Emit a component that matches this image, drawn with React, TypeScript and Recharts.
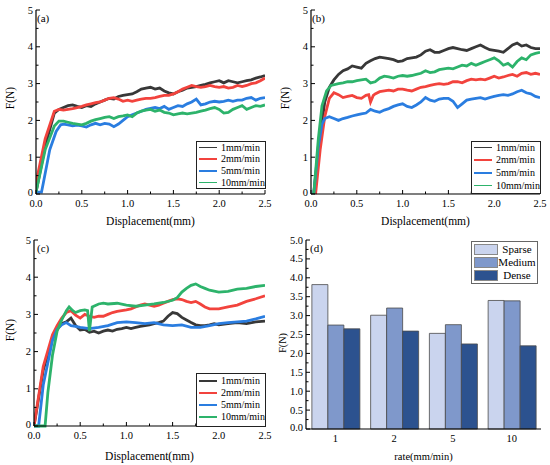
import React from 'react';
import { LineChart, Line, BarChart, Bar, XAxis, YAxis } from 'recharts';

// ---- data: [displacement (mm), force (N)] ----
const a1mm = [[0,0.05],[0.1,1.3],[0.2,2.2],[0.25,2.3],[0.3,2.35],[0.35,2.4],[0.4,2.42],[0.45,2.38],[0.5,2.35],[0.55,2.4],[0.6,2.38],[0.65,2.45],[0.7,2.5],[0.75,2.55],[0.8,2.6],[0.85,2.58],[0.9,2.65],[0.95,2.68],[1.0,2.7],[1.05,2.72],[1.1,2.78],[1.15,2.85],[1.2,2.88],[1.25,2.9],[1.3,2.85],[1.35,2.88],[1.4,2.8],[1.45,2.75],[1.5,2.72],[1.55,2.78],[1.6,2.82],[1.65,2.88],[1.7,2.9],[1.75,2.92],[1.8,2.95],[1.85,2.98],[1.9,3.02],[1.95,3.05],[2.0,3.08],[2.05,3.02],[2.1,3.08],[2.15,3.05],[2.2,3.02],[2.25,3.05],[2.3,3.08],[2.35,3.1],[2.4,3.15],[2.45,3.18],[2.5,3.22]];
const a2mm = [[0,0.3],[0.1,1.5],[0.2,2.25],[0.25,2.3],[0.3,2.28],[0.35,2.3],[0.4,2.32],[0.45,2.35],[0.5,2.38],[0.55,2.42],[0.6,2.45],[0.65,2.48],[0.7,2.5],[0.75,2.55],[0.8,2.6],[0.85,2.62],[0.9,2.58],[0.95,2.52],[1.0,2.55],[1.05,2.52],[1.1,2.55],[1.15,2.58],[1.2,2.6],[1.25,2.6],[1.3,2.62],[1.35,2.65],[1.4,2.68],[1.45,2.68],[1.5,2.72],[1.55,2.78],[1.6,2.85],[1.65,2.9],[1.7,2.95],[1.75,2.92],[1.8,2.9],[1.85,2.92],[1.9,2.95],[1.95,2.92],[2.0,2.9],[2.05,2.92],[2.1,2.88],[2.15,2.9],[2.2,2.95],[2.25,2.92],[2.3,2.95],[2.35,3.0],[2.4,3.02],[2.45,3.08],[2.5,3.15]];
const a5mm = [[0,0.05],[0.06,0.05],[0.08,0.3],[0.15,1.2],[0.22,1.7],[0.27,1.88],[0.3,1.9],[0.35,1.88],[0.4,1.85],[0.45,1.87],[0.5,1.85],[0.55,1.82],[0.6,1.88],[0.65,1.92],[0.7,1.88],[0.75,1.92],[0.8,1.9],[0.85,1.83],[0.9,1.9],[0.95,2.0],[1.0,2.1],[1.05,2.15],[1.1,2.2],[1.15,2.25],[1.2,2.3],[1.25,2.33],[1.3,2.35],[1.35,2.32],[1.4,2.38],[1.45,2.3],[1.5,2.35],[1.55,2.4],[1.6,2.38],[1.65,2.45],[1.7,2.5],[1.75,2.58],[1.8,2.42],[1.85,2.45],[1.9,2.5],[1.95,2.52],[2.0,2.5],[2.05,2.52],[2.1,2.55],[2.15,2.52],[2.2,2.55],[2.25,2.55],[2.3,2.6],[2.35,2.62],[2.4,2.55],[2.45,2.6],[2.5,2.62]];
const a10mm = [[0,0.05],[0.1,1.2],[0.2,1.85],[0.25,1.98],[0.3,1.98],[0.35,1.95],[0.4,1.92],[0.45,1.9],[0.5,1.88],[0.55,1.92],[0.6,1.98],[0.65,2.02],[0.7,2.05],[0.75,2.08],[0.8,2.1],[0.85,2.05],[0.9,2.1],[0.95,2.12],[1.0,2.15],[1.05,2.1],[1.1,2.2],[1.15,2.25],[1.2,2.28],[1.25,2.3],[1.3,2.25],[1.35,2.28],[1.4,2.22],[1.45,2.2],[1.5,2.15],[1.55,2.18],[1.6,2.2],[1.65,2.18],[1.7,2.2],[1.75,2.22],[1.8,2.25],[1.85,2.28],[1.9,2.32],[1.95,2.35],[2.0,2.3],[2.05,2.2],[2.1,2.22],[2.15,2.3],[2.2,2.35],[2.25,2.4],[2.3,2.3],[2.35,2.35],[2.4,2.4],[2.45,2.38],[2.5,2.42]];

const b1mm = [[0.03,0],[0.1,1.6],[0.15,2.5],[0.2,2.9],[0.25,3.1],[0.3,3.25],[0.35,3.35],[0.4,3.4],[0.45,3.48],[0.5,3.45],[0.55,3.42],[0.6,3.55],[0.65,3.62],[0.7,3.68],[0.75,3.72],[0.8,3.7],[0.85,3.68],[0.9,3.65],[0.95,3.6],[1.0,3.62],[1.05,3.68],[1.1,3.7],[1.15,3.72],[1.2,3.78],[1.25,3.88],[1.3,3.92],[1.35,3.85],[1.4,3.85],[1.45,3.9],[1.5,3.95],[1.55,3.98],[1.6,3.95],[1.65,3.92],[1.7,3.9],[1.75,3.95],[1.8,4.0],[1.85,4.05],[1.9,3.98],[1.95,3.92],[2.0,3.9],[2.05,3.88],[2.1,3.85],[2.15,3.95],[2.2,4.05],[2.25,4.1],[2.3,4.02],[2.35,4.05],[2.4,3.98],[2.45,3.95],[2.5,3.95]];
const b2mm = [[0.05,0],[0.1,1.2],[0.15,2.1],[0.2,2.6],[0.25,2.75],[0.3,2.7],[0.35,2.62],[0.4,2.65],[0.45,2.68],[0.5,2.62],[0.55,2.6],[0.6,2.68],[0.63,2.7],[0.65,2.5],[0.68,2.68],[0.7,2.72],[0.75,2.78],[0.8,2.8],[0.85,2.82],[0.9,2.8],[0.95,2.85],[1.0,2.85],[1.05,2.82],[1.1,2.8],[1.15,2.85],[1.2,2.9],[1.25,2.92],[1.3,2.95],[1.35,2.98],[1.4,3.0],[1.45,2.98],[1.5,3.0],[1.55,3.05],[1.6,3.05],[1.65,3.02],[1.7,3.08],[1.75,3.12],[1.8,3.1],[1.85,3.12],[1.9,3.1],[1.95,3.15],[2.0,3.2],[2.05,3.15],[2.1,3.18],[2.15,3.22],[2.2,3.25],[2.25,3.2],[2.3,3.28],[2.35,3.3],[2.4,3.25],[2.45,3.28],[2.5,3.25]];
const b5mm = [[0.03,0],[0.08,1.3],[0.12,1.9],[0.15,2.05],[0.2,2.1],[0.25,2.05],[0.3,2.0],[0.35,2.05],[0.4,2.08],[0.45,2.12],[0.5,2.15],[0.55,2.18],[0.6,2.2],[0.65,2.3],[0.7,2.25],[0.75,2.22],[0.8,2.28],[0.85,2.32],[0.9,2.38],[0.95,2.42],[1.0,2.45],[1.05,2.38],[1.1,2.35],[1.15,2.42],[1.2,2.5],[1.25,2.62],[1.3,2.55],[1.35,2.52],[1.4,2.58],[1.45,2.6],[1.5,2.6],[1.55,2.52],[1.6,2.35],[1.65,2.45],[1.7,2.55],[1.75,2.58],[1.8,2.6],[1.85,2.62],[1.9,2.58],[1.95,2.62],[2.0,2.65],[2.05,2.68],[2.1,2.7],[2.15,2.68],[2.2,2.72],[2.25,2.78],[2.3,2.82],[2.35,2.75],[2.4,2.72],[2.45,2.65],[2.5,2.62]];
const b10mm = [[0.03,0],[0.08,1.5],[0.12,2.4],[0.17,2.8],[0.22,2.95],[0.3,3.0],[0.35,3.02],[0.4,3.05],[0.45,3.05],[0.5,3.08],[0.55,3.1],[0.6,3.12],[0.65,3.02],[0.7,3.05],[0.75,3.15],[0.8,3.2],[0.85,3.18],[0.9,3.15],[0.95,3.2],[1.0,3.22],[1.05,3.2],[1.1,3.22],[1.15,3.25],[1.2,3.28],[1.25,3.35],[1.3,3.3],[1.35,3.32],[1.4,3.38],[1.45,3.4],[1.5,3.42],[1.55,3.4],[1.6,3.45],[1.65,3.5],[1.7,3.48],[1.75,3.55],[1.8,3.5],[1.85,3.55],[1.9,3.6],[1.95,3.65],[2.0,3.7],[2.05,3.62],[2.1,3.5],[2.15,3.55],[2.2,3.45],[2.25,3.6],[2.3,3.7],[2.35,3.65],[2.4,3.78],[2.45,3.82],[2.5,3.85]];

const c1mm = [[0,0],[0.1,1.5],[0.2,2.35],[0.25,2.6],[0.3,2.75],[0.35,2.8],[0.4,2.9],[0.45,2.7],[0.5,2.58],[0.55,2.6],[0.6,2.52],[0.65,2.55],[0.7,2.5],[0.75,2.55],[0.8,2.58],[0.85,2.55],[0.9,2.6],[0.95,2.62],[1.0,2.65],[1.05,2.62],[1.1,2.65],[1.15,2.68],[1.2,2.7],[1.25,2.72],[1.3,2.75],[1.35,2.78],[1.4,2.82],[1.45,2.95],[1.5,3.05],[1.55,3.02],[1.6,2.92],[1.65,2.85],[1.7,2.78],[1.75,2.72],[1.8,2.7],[1.85,2.7],[1.9,2.72],[1.95,2.75],[2.0,2.72],[2.1,2.75],[2.2,2.78],[2.3,2.75],[2.4,2.8],[2.5,2.82]];
const c2mm = [[0,0],[0.1,1.6],[0.2,2.45],[0.25,2.7],[0.3,2.9],[0.35,3.05],[0.4,3.1],[0.45,2.98],[0.5,2.9],[0.55,3.0],[0.6,2.95],[0.65,2.92],[0.7,2.95],[0.75,2.95],[0.8,3.0],[0.85,3.05],[0.9,3.08],[0.95,3.1],[1.0,3.12],[1.05,3.15],[1.1,3.2],[1.15,3.25],[1.2,3.28],[1.25,3.25],[1.3,3.22],[1.35,3.25],[1.4,3.3],[1.45,3.35],[1.5,3.4],[1.55,3.42],[1.6,3.4],[1.65,3.35],[1.7,3.32],[1.75,3.35],[1.8,3.28],[1.85,3.2],[1.9,3.15],[1.95,3.15],[2.0,3.15],[2.1,3.2],[2.2,3.25],[2.3,3.35],[2.4,3.42],[2.5,3.5]];
const c5mm = [[0,0],[0.05,0],[0.1,1.1],[0.2,2.3],[0.25,2.6],[0.3,2.72],[0.35,2.78],[0.4,2.7],[0.45,2.68],[0.5,2.65],[0.6,2.62],[0.7,2.65],[0.8,2.7],[0.9,2.78],[1.0,2.8],[1.1,2.78],[1.2,2.75],[1.3,2.78],[1.4,2.72],[1.5,2.7],[1.6,2.72],[1.7,2.65],[1.8,2.65],[1.9,2.7],[2.0,2.75],[2.1,2.78],[2.2,2.8],[2.3,2.82],[2.4,2.88],[2.5,2.95]];
const c10mm = [[0,0],[0.12,0],[0.15,0.9],[0.2,1.9],[0.25,2.55],[0.3,2.85],[0.35,3.1],[0.38,3.2],[0.42,3.1],[0.45,3.05],[0.5,3.1],[0.55,3.12],[0.58,3.1],[0.6,2.55],[0.63,3.2],[0.7,3.28],[0.75,3.3],[0.8,3.28],[0.9,3.3],[1.0,3.25],[1.1,3.22],[1.2,3.25],[1.3,3.28],[1.4,3.32],[1.5,3.38],[1.55,3.45],[1.6,3.6],[1.65,3.7],[1.7,3.78],[1.75,3.82],[1.8,3.75],[1.85,3.7],[1.9,3.65],[2.0,3.6],[2.1,3.62],[2.2,3.68],[2.3,3.7],[2.4,3.75],[2.5,3.78]];

const rateNames = ['1mm/min', '2mm/min', '5mm/min', '10mm/min'];
const rateColors = ['#383838', '#f2433d', '#2a7de0', '#2db36b'];

const rateCats = ['1', '2', '5', '10'];
const sparseVals = [3.82, 3.01, 2.53, 3.40];
const mediumVals = [2.75, 3.20, 2.76, 3.39];
const denseVals = [2.65, 2.59, 2.25, 2.20];
const densityNames = ['Sparse', 'Medium', 'Dense'];
const densityColors = ['#cad4ee', '#7f98cb', '#2c528f'];

const xTicks = [0, 0.25, 0.5, 0.75, 1, 1.25, 1.5, 1.75, 2, 2.25, 2.5];
const yTicks = [0, 0.5, 1, 1.5, 2, 2.5, 3, 3.5, 4, 4.5, 5];
const yTicksFine = [0, 0.25, 0.5, 0.75, 1, 1.25, 1.5, 1.75, 2, 2.25, 2.5, 2.75, 3, 3.25, 3.5, 3.75, 4, 4.25, 4.5, 4.75, 5];

const FONT = "'Liberation Serif', 'Times New Roman', serif";
const toPts = (arr: number[][]) => arr.map(([d, f]) => ({ d, f }));
const isStep = (v: number, step: number) => Math.abs(v / step - Math.round(v / step)) < 1e-6;
const txt = { fontFamily: FONT, fill: '#000' };

const xTick = (axisY: number) => (props: any) => {
  const { x, payload } = props;
  const v = payload.value as number;
  const major = isStep(v, 0.5);
  return (
    <g>
      <line x1={x} x2={x} y1={axisY} y2={axisY - (major ? 4 : 2.5)} stroke="#000" />
      {major && (
        <text x={x} y={axisY + 12.5} textAnchor="middle" fontSize={10.5} style={txt}>
          {v.toFixed(1)}
        </text>
      )}
    </g>
  );
};

const yTick = (axisX: number, majorStep: number, fmt: (v: number) => string) => (props: any) => {
  const { y, payload } = props;
  const v = payload.value as number;
  const major = isStep(v, majorStep);
  return (
    <g>
      <line x1={axisX} x2={axisX + (major ? 4 : 2.5)} y1={y} y2={y} stroke="#000" />
      {major && (
        <text x={axisX - 3} y={y + (v === 0 ? 2 : 3.5)} textAnchor="end" fontSize={10.5} style={txt}>
          {fmt(v)}
        </text>
      )}
    </g>
  );
};

const yLabel = (cx: number, cy: number, size: number) => () => (
  <text x={cx} y={cy} transform={`rotate(-90 ${cx} ${cy})`} textAnchor="middle" dominantBaseline="central"
    fontSize={size} style={txt}>F(N)</text>
);

const xLabel = (cx: number, baseline: number, size: number, value: string) => () => (
  <text x={cx} y={baseline} textAnchor="middle" fontSize={size} style={txt}>{value}</text>
);

interface LinePanelProps {
  left: number;
  top: number;
  height: number;
  yAxisW: number;
  xAxisH: number;
  tag: string;
  series: number[][][];
  legendTop: number;
  legendH: number;
  rowStart: number;
  rowH: number;
  labelCy: number;
}

const LinePanel = (p: LinePanelProps) => {
  const plotBottom = p.height - p.xAxisH;
  const cx = (p.yAxisW + 265) / 2;
  return (
    <div style={{ position: 'absolute', left: p.left, top: p.top, width: 275, height: p.height, fontFamily: FONT }}>
      <LineChart width={275} height={p.height} margin={{ top: 10, right: 10, left: 0, bottom: 0 }} style={{ fontFamily: FONT }}>
        <XAxis dataKey="d" type="number" domain={[0, 2.5]} ticks={xTicks} interval={0} height={p.xAxisH}
          axisLine={{ stroke: '#000', strokeWidth: 1.2 }} tickLine={false} tick={xTick(plotBottom)}
          allowDataOverflow
          label={{ content: xLabel(cx, p.height - 5, 11.5, 'Displacement(mm)') }} />
        <XAxis xAxisId="top" orientation="top" type="number" domain={[0, 2.5]} height={0} tick={false} tickLine={false}
          axisLine={{ stroke: '#000', strokeWidth: 1.2 }} />
        <YAxis type="number" domain={[0, 5]} ticks={yTicks} interval={0} width={p.yAxisW}
          axisLine={{ stroke: '#000', strokeWidth: 1.2 }} tickLine={false}
          tick={yTick(p.yAxisW, 1, (v) => String(v))}
          label={{ content: yLabel(10, p.labelCy, 11.5) }} />
        <YAxis yAxisId="right" orientation="right" type="number" domain={[0, 5]} width={0} tick={false} tickLine={false}
          axisLine={{ stroke: '#000', strokeWidth: 1.2 }} />
        {p.series.map((s, i) => (
          <Line key={rateNames[i]} data={toPts(s)} dataKey="f" name={rateNames[i]} type="linear"
            stroke={rateColors[i]} strokeWidth={2.8} dot={false} isAnimationActive={false} />
        ))}
      </LineChart>
      <div style={{ position: 'absolute', left: 37, top: 12, fontSize: 11, lineHeight: '12px' }}>{p.tag}</div>
      <div style={{ position: 'absolute', left: 196, top: p.legendTop, width: 68, height: p.legendH,
        border: '1px solid #222', background: '#fff', fontSize: 10 }}>
        {rateNames.map((n, i) => (
          <div key={n} style={{ position: 'absolute', left: 0, top: p.rowStart + i * p.rowH - 6, height: 12,
            display: 'flex', alignItems: 'center' }}>
            <div style={{ width: 18, height: 1.8, marginLeft: 2, background: rateColors[i] }} />
            <span style={{ marginLeft: 4, lineHeight: '12px' }}>{n}</span>
          </div>
        ))}
      </div>
    </div>
  );
};

const barData = rateCats.map((r, i) => ({ rate: r, Sparse: sparseVals[i], Medium: mediumVals[i], Dense: denseVals[i] }));

const BarPanel = () => {
  const plotBottom = 235 - 36;
  return (
    <div style={{ position: 'absolute', left: 275, top: 230, width: 275, height: 235, fontFamily: FONT }}>
      <BarChart width={275} height={235} data={barData} margin={{ top: 10, right: 9, left: 0, bottom: 0 }}
        barCategoryGap="10%" barGap={0} style={{ fontFamily: FONT }}>
        <XAxis dataKey="rate" height={36} axisLine={{ stroke: '#000', strokeWidth: 1.2 }} tickLine={false} interval={0}
          tick={(props: any) => (
            <text x={props.x} y={plotBottom + 13} textAnchor="middle" fontSize={10.5} style={txt}>
              {props.payload.value}
            </text>
          )}
          label={{ content: xLabel(148.5, 230, 10.5, 'rate(mm/min)') }} />
        <XAxis xAxisId="top" dataKey="rate" orientation="top" height={0} tick={false} tickLine={false}
          axisLine={{ stroke: '#000', strokeWidth: 1.2 }} />
        <YAxis type="number" domain={[0, 5]} ticks={yTicksFine} interval={0} width={31}
          axisLine={{ stroke: '#000', strokeWidth: 1.2 }} tickLine={false}
          tick={yTick(31, 0.5, (v) => v.toFixed(1))}
          label={{ content: yLabel(7, 113, 10) }} />
        <YAxis yAxisId="right" orientation="right" type="number" domain={[0, 5]} width={0} tick={false} tickLine={false}
          axisLine={{ stroke: '#000', strokeWidth: 1.2 }} />
        {densityNames.map((n, i) => (
          <Bar key={n} dataKey={n} fill={densityColors[i]} stroke="#4a4a4a" strokeWidth={0.8} isAnimationActive={false} />
        ))}
      </BarChart>
      <div style={{ position: 'absolute', left: 35, top: 12, fontSize: 11, lineHeight: '12px' }}>(d)</div>
      <div style={{ position: 'absolute', left: 196, top: 10.5, width: 65, height: 41, border: '1px solid #666',
        background: '#fff', fontSize: 11 }}>
        {densityNames.map((n, i) => (
          <div key={n} style={{ position: 'absolute', left: 2, top: 2 + i * 13, height: 11.5, width: 62,
            display: 'flex', alignItems: 'center' }}>
            <div style={{ width: 24, height: 11.5, background: densityColors[i], boxSizing: 'border-box', border: '0.5px solid #888' }} />
            <span style={{ flex: 1, textAlign: 'center', lineHeight: '12px' }}>{n}</span>
          </div>
        ))}
      </div>
    </div>
  );
};

export default function App() {
  return (
    <div style={{ position: 'absolute', left: 0, top: 0, width: 550, height: 465, background: '#fff', overflow: 'hidden', fontFamily: FONT }}>
      <LinePanel left={0} top={0} height={230} yAxisW={36} xAxisH={36} tag="(a)"
        series={[a1mm, a2mm, a5mm, a10mm]} legendTop={140.5} legendH={46} rowStart={6} rowH={11.7} labelCy={98} />
      <LinePanel left={275} top={0} height={230} yAxisW={36} xAxisH={36} tag="(b)"
        series={[b1mm, b2mm, b5mm, b10mm]} legendTop={140.5} legendH={51} rowStart={6} rowH={12.7} labelCy={98} />
      <LinePanel left={0} top={230} height={235} yAxisW={34} xAxisH={39} tag="(c)"
        series={[c1mm, c2mm, c5mm, c10mm]} legendTop={143} legendH={52} rowStart={7} rowH={11.9} labelCy={100} />
      <BarPanel />
    </div>
  );
}
